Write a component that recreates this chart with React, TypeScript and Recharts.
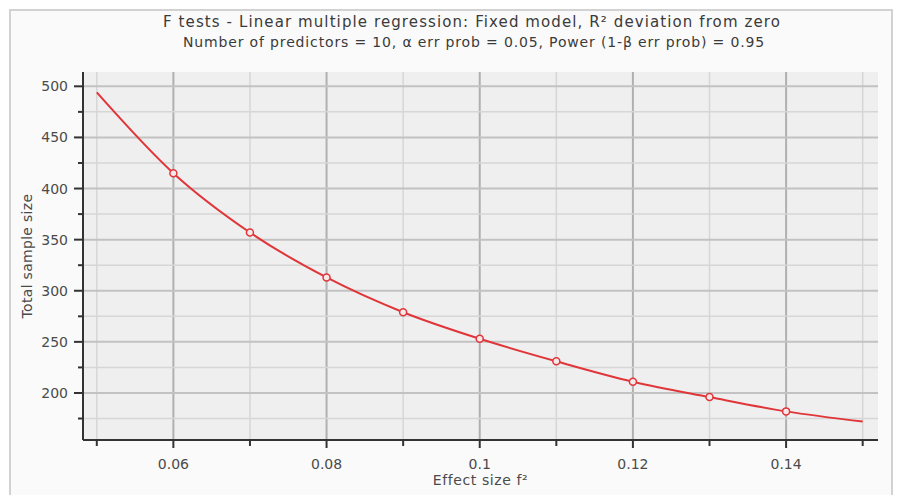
import { LineChart, Line, XAxis, YAxis, CartesianGrid, ReferenceLine } from 'recharts';

const effectSizes = [0.05, 0.06, 0.07, 0.08, 0.09, 0.1, 0.11, 0.12, 0.13, 0.14, 0.15];
const sampleSizes = [494, 415, 357, 313, 279, 253, 231, 211, 196, 182, 172];

const xTicks = [0.05, 0.06, 0.07, 0.08, 0.09, 0.1, 0.11, 0.12, 0.13, 0.14, 0.15];
const xMajorTicks = [0.06, 0.08, 0.1, 0.12, 0.14];
const yTicks = [175, 200, 225, 250, 275, 300, 325, 350, 375, 400, 425, 450, 475, 500];
const yMajorTicks = [200, 250, 300, 350, 400, 450, 500];

const data = effectSizes.map((f2, i) => ({ f2, n: sampleSizes[i] }));

const FONT = '"DejaVu Sans", Verdana, sans-serif';
const RED = '#e0363a';

const isMajorX = (v: number) => xMajorTicks.some((m) => Math.abs(m - v) < 1e-9);
const isMajorY = (v: number) => yMajorTicks.includes(v);

const XTick = ({ x, y, payload }: any) => {
  const major = isMajorX(payload.value);
  return (
    <g>
      <line x1={x} x2={x} y1={y - 1} y2={y + (major ? 8 : 6)} stroke="#333" strokeWidth={2} />
      {major && (
        <text x={x} y={y + 29} textAnchor="middle" fill="#4a4a4a" fontSize={14} fontFamily={FONT}>
          {String(Math.round(payload.value * 100) / 100)}
        </text>
      )}
    </g>
  );
};

const YTick = ({ x, y, payload }: any) => {
  const major = isMajorY(payload.value);
  return (
    <g>
      <line x1={x - (major ? 9 : 5)} x2={x + 1} y1={y} y2={y} stroke="#333" strokeWidth={2} />
      {major && (
        <text x={x - 15} y={y + 5} textAnchor="end" fill="#4a4a4a" fontSize={14} fontFamily={FONT}>
          {payload.value}
        </text>
      )}
    </g>
  );
};

const renderDot = (props: any) => {
  const { cx, cy, index } = props;
  if (index === 0 || index === data.length - 1) return <g key={`d-${index}`} />;
  return <circle key={`d-${index}`} cx={cx} cy={cy} r={3.5} fill="#f4e8e8" stroke={RED} strokeWidth={1.5} />;
};

export default function App() {
  return (
    <div style={{ position: 'absolute', left: 0, top: 0, width: 899, height: 495, overflow: 'hidden', background: '#fff' }}>
      <div
        style={{
          position: 'absolute',
          left: 9,
          top: 9,
          width: 880,
          height: 495,
          border: '2px solid #d2d2d2',
          background: '#fafafa',
        }}
      />
      <div style={{ position: 'absolute', left: 0, top: 13, width: 944, textAlign: 'center', fontFamily: FONT, fontSize: 15, letterSpacing: 1.1, lineHeight: '18px', color: '#3a3a3a' }}>
        F tests - Linear multiple regression: Fixed model, R² deviation from zero
      </div>
      <div style={{ position: 'absolute', left: 0, top: 34, width: 948, textAlign: 'center', fontFamily: FONT, fontSize: 14, letterSpacing: 0.85, lineHeight: '17px', color: '#3a3a3a' }}>
        Number of predictors = 10, α err prob = 0.05, Power (1-β err prob) = 0.95
      </div>
      <div style={{ position: 'absolute', left: 0, top: 0 }}>
        <LineChart width={899} height={495} data={data} margin={{ top: 72, right: 21, bottom: 25, left: 23 }}>
          <CartesianGrid fill="#efefef" stroke="none" horizontal={false} vertical={false} />
          {xTicks.map((v) => (
            <ReferenceLine
              key={`gx-${v}`}
              x={v}
              stroke={isMajorX(v) ? '#b0b0b0' : '#d6d6d6'}
              strokeWidth={isMajorX(v) ? 2 : 1.5}
            />
          ))}
          {yTicks.map((v) => (
            <ReferenceLine
              key={`gy-${v}`}
              y={v}
              stroke={isMajorY(v) ? '#c2c2c2' : '#d6d6d6'}
              strokeWidth={isMajorY(v) ? 2 : 1.5}
            />
          ))}
          <XAxis
            dataKey="f2"
            type="number"
            domain={[0.0482, 0.152]}
            ticks={xTicks}
            interval={0}
            tickSize={0}
            tickMargin={0}
            tickLine={false}
            tick={<XTick />}
            axisLine={{ stroke: '#333', strokeWidth: 2 }}
            height={30}
            label={{ value: 'Effect size f²', position: 'insideBottom', offset: -15, fill: '#4a4a4a', fontSize: 14, letterSpacing: 0.6, fontFamily: FONT }}
          />
          <YAxis
            type="number"
            domain={[154, 514]}
            ticks={yTicks}
            interval={0}
            tickSize={0}
            tickMargin={0}
            tickLine={false}
            tick={<YTick />}
            axisLine={{ stroke: '#333', strokeWidth: 2 }}
            width={60}
            allowDataOverflow
            label={{ value: 'Total sample size', angle: -90, position: 'insideLeft', offset: 4, fill: '#4a4a4a', fontSize: 14, letterSpacing: 0.3, fontFamily: FONT, style: { textAnchor: 'middle' } }}
          />
          <Line
            type="monotone"
            dataKey="n"
            stroke={RED}
            strokeWidth={2}
            dot={renderDot}
            activeDot={false}
            isAnimationActive={false}
          />
        </LineChart>
      </div>
    </div>
  );
}
